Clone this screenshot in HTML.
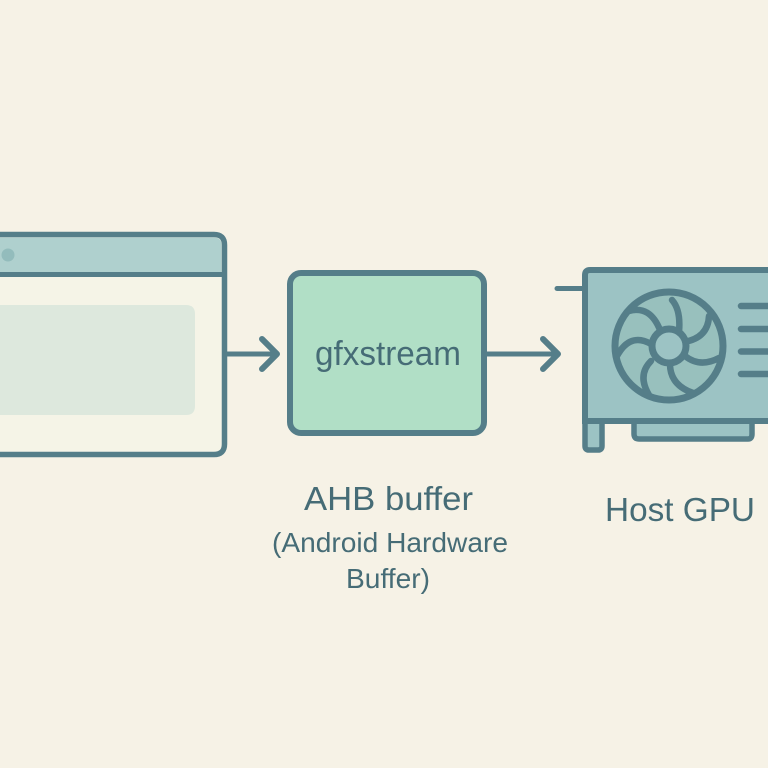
<!DOCTYPE html>
<html><head><meta charset="utf-8"><style>
html,body{margin:0;padding:0;background:#f6f2e6}
svg{display:block}
text{font-family:"Liberation Sans",sans-serif;fill:#466c76;text-anchor:middle}
</style></head><body>
<svg width="768" height="768" viewBox="0 0 768 768" xmlns="http://www.w3.org/2000/svg">
<rect width="768" height="768" fill="#f6f2e6"/>
<!-- window -->
<path d="M-10 234.500H214Q224.500 234.500 224.500 245V444Q224.500 454.500 214 454.500H-10Z" fill="#f5f4e7" stroke="#557e89" stroke-width="5.500"/>
<path d="M-10 237.500H214Q221.500 237.500 221.500 245V272H-10Z" fill="#afd0ce"/>
<path d="M-10 274.500H224" stroke="#557e89" stroke-width="5" fill="none"/>
<circle cx="8" cy="255" r="6.500" fill="#93bcbc"/>
<path d="M-10 305H186Q195 305 195 314V406Q195 415 186 415H-10Z" fill="#dde8dd"/>
<!-- arrows -->
<g fill="none" stroke="#557e89" stroke-width="5" stroke-linecap="round" stroke-linejoin="round">
<path d="M227 354H276"/>
<path d="M262 339L277 354L262 369" stroke-width="6"/>
<path d="M487 354H556"/>
<path d="M543 339L558 354L543 369" stroke-width="6"/>
<path d="M557 288.500H583"/>
</g>
<!-- gfxstream box -->
<rect x="290" y="273" width="194" height="160" rx="11" fill="#b1dfc6" stroke="#557e89" stroke-width="6"/>
<text x="388" y="365" font-size="34" textLength="146" lengthAdjust="spacingAndGlyphs">gfxstream</text>
<!-- labels -->
<text x="388.500" y="510" font-size="33" textLength="169" lengthAdjust="spacingAndGlyphs">AHB buffer</text>
<text x="390" y="552" font-size="28" textLength="236" lengthAdjust="spacingAndGlyphs">(Android Hardware</text>
<text x="388" y="588" font-size="28" textLength="84" lengthAdjust="spacingAndGlyphs">Buffer)</text>
<text x="680" y="521" font-size="33" textLength="150" lengthAdjust="spacingAndGlyphs">Host GPU</text>
<!-- GPU -->
<path d="M634 421V434Q634 439 639 439H748Q752 439 752 434V421Z" fill="#9cc3c4" stroke="#557e89" stroke-width="5.500"/>
<path d="M585 421V446Q585 450 589 450H598Q602 450 602 446V421Z" fill="#9cc3c4" stroke="#557e89" stroke-width="5.500"/>
<path d="M775 270H590Q585 270 585 275V421H775Z" fill="#9cc3c4" stroke="#557e89" stroke-width="6"/>
<g fill="none" stroke="#557e89" stroke-linecap="round">
<path d="M741 306H775M741 329H775M741 351.500H775M741 374H775" stroke-width="6.500"/>
<circle cx="669" cy="346" r="54" fill="#98c0bd" stroke-width="7"/>
<path stroke-width="6.500" d="M672 300Q681 310 679 332M709 316Q708 338 684 342M685 356Q700 368 719 358M670 364Q670 385 693 393M651 361Q637 375 649 395M651 344Q630 332 617 356M660 330Q650 305 629 311"/>
<circle cx="669" cy="346" r="17" fill="#9cc3c4" stroke-width="7"/>
</g>
</svg>
</body></html>
